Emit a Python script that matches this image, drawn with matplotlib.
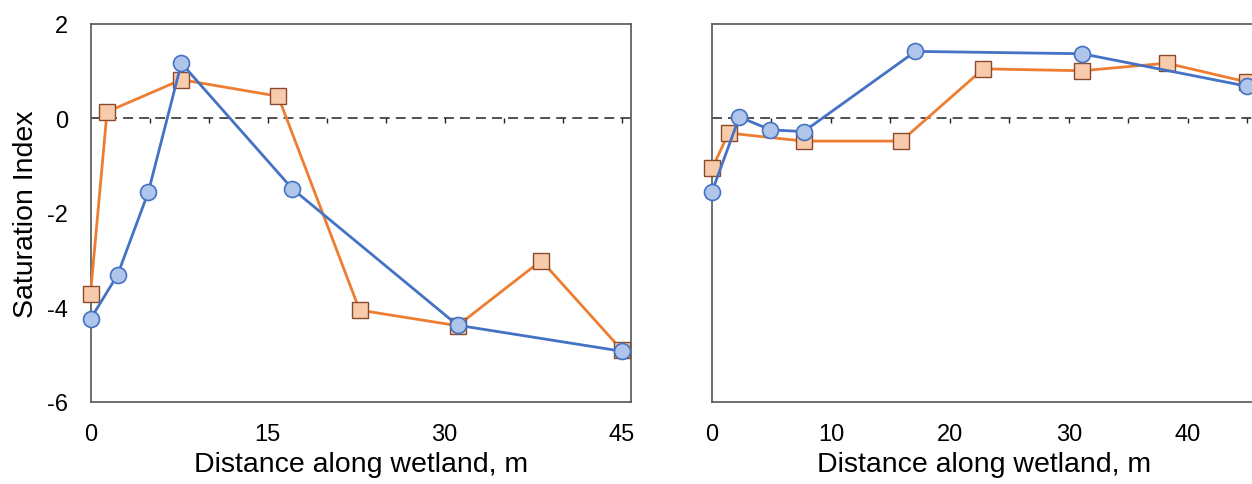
import matplotlib
matplotlib.use('Agg')
import matplotlib.pyplot as plt
import numpy as np

plt.rcParams['font.family'] = ['Liberation Sans', 'DejaVu Sans']
plt.rcParams['axes.unicode_minus'] = False

# distance along the wetland (m) and saturation index, two sites
dist_sq = [0, 1.4, 7.7, 15.9, 22.8, 31.1, 38.2, 45]
dist_ci = [0, 2.3, 4.9, 7.7, 17.1, 31.1, 45]

left_sq = [-3.72, 0.14, 0.82, 0.47, -4.06, -4.39, -3.01, -4.90]
left_ci = [-4.25, -3.31, -1.56, 1.17, -1.49, -4.38, -4.93]

right_sq = [-1.06, -0.31, -0.48, -0.48, 1.05, 1.01, 1.17, 0.77]
right_ci = [-1.55, 0.03, -0.24, -0.28, 1.42, 1.37, 0.68]

left_xticks = [0, 15, 30, 45]
right_xticks = [0, 10, 20, 30, 40]
yticks = [-6, -4, -2, 0, 2]

W, H = 1252, 485
fig = plt.figure(figsize=(W / 100, H / 100), dpi=100)
ax1 = fig.add_axes([90.5 / W, 82.3 / H, 540.5 / W, 377.7 / H])
ax2 = fig.add_axes([712 / W, 82.3 / H, 545 / W, 377.7 / H])

orange, orange_face, orange_edge = '#ED7D31', '#F8CBAD', '#8B4A2B'
blue, blue_face = '#4472C4', '#AFC5E9'


def draw(ax, sq, ci, xticks):
    ax.set_xlim(0, 45.8)
    ax.set_ylim(-6, 2)
    # zero line with small ticks hanging below it
    ax.axhline(0, color='#222222', lw=1.1, ls=(0, (6.5, 4)), zorder=1)
    ax.vlines(np.arange(5, 50, 5), -0.1, 0, color='#222222', lw=1.0, zorder=1)
    ax.plot(dist_sq, sq, color=orange, lw=2.0, marker='s', ms=11.5,
            mfc=orange_face, mec=orange_edge, mew=1.0, zorder=3)
    ax.plot(dist_ci, ci, color=blue, lw=2.0, marker='o', ms=11.5,
            mfc=blue_face, mec=blue, mew=1.2, zorder=4)
    ax.set_xticks(xticks)
    ax.tick_params(axis='x', length=0, pad=15, labelsize=17)
    ax.set_xlabel('Distance along wetland, m', fontsize=20.5, labelpad=5)
    for s in ax.spines.values():
        s.set_color('#555555')
        s.set_linewidth(1.2)
    for m in ax.lines:
        m.set_clip_on(False)


draw(ax1, left_sq, left_ci, left_xticks)
ax1.set_yticks(yticks)
ax1.tick_params(axis='y', length=0, pad=16, labelsize=17)
ax1.set_ylabel('Saturation Index', fontsize=20.5, labelpad=6)

draw(ax2, right_sq, right_ci, right_xticks)
ax2.set_yticks([])
ax2.spines['right'].set_visible(False)

fig.savefig('out.png', dpi=100)
